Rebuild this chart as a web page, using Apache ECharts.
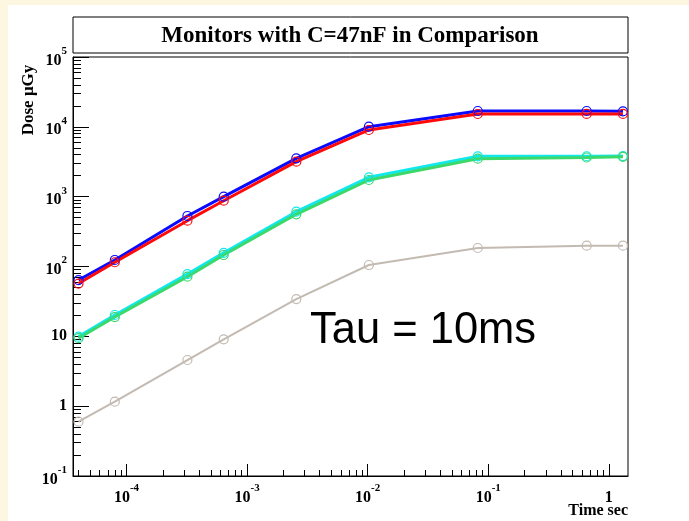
<!DOCTYPE html>
<html><head><meta charset="utf-8">
<script src="https://cdn.jsdelivr.net/npm/echarts@6/dist/echarts.min.js"></script>
<style>html,body{margin:0;padding:0;background:#fdf6e1;}#c{width:689px;height:521px;}</style>
</head><body><div id="c"></div>
<script>
// ---- data ----
const times = [4e-5, 8e-5, 3.2e-4, 6.4e-4, 2.56e-3, 1.024e-2, 8.192e-2, 0.65536, 1.31072];
const doseBlue  = [64, 124, 529, 1000, 3540, 10040, 16860, 16860, 16700];
const doseRed   = [57, 115, 453, 875, 3170, 9010, 15270, 15300, 15300];
const doseCyan  = [9.9, 20.2, 78, 157, 609, 1893, 3786, 3790, 3810];
const doseGreen = [9.4, 18.9, 71.4, 146, 559, 1733, 3500, 3640, 3720];
const doseGray  = [0.60, 1.16, 4.58, 9.06, 34.2, 105, 184, 199, 199];

const xTickValues = [1e-4, 1e-3, 1e-2, 1e-1, 1];
const xTickLabels = [['10','-4'], ['10','-3'], ['10','-2'], ['10','-1'], ['1','']];
const yTickValues = [0.1, 1, 10, 100, 1000, 10000, 100000];
const yTickLabels = [['10','-1'], ['1',''], ['10',''], ['10','2'], ['10','3'], ['10','4'], ['10','5']];

const title = 'Monitors with C=47nF in Comparison';
const xName = 'Time sec';
const yName = 'Dose \u03bcGy';
const note = 'Tau = 10ms';

// minor tick positions (2..9 per decade)
function minorTicks(lo, hi) {
  const out = [];
  for (let e = lo; e <= hi; e++) for (let k = 2; k <= 9; k++) out.push(+(k * Math.pow(10, e)).toPrecision(3));
  return out;
}
const xMinor = minorTicks(-5, 0);
const yMinor = minorTicks(-1, 4);

const serif = 'Liberation Serif';
const rich = {
  b: {fontFamily: serif, fontWeight: 'bold', fontSize: 16, color: '#000', padding: [7, 0, 0, 0]},
  s: {fontFamily: serif, fontWeight: 'bold', fontSize: 11, color: '#000', verticalAlign: 'top'},
  p: {fontFamily: serif, fontWeight: 'bold', fontSize: 16, color: '#000'}
};
function fmt(values, labels) {
  return function (v) {
    let best = 0, bd = Infinity;
    values.forEach((t, i) => { const d = Math.abs(Math.log10(t) - Math.log10(v)); if (d < bd) { bd = d; best = i; } });
    if (bd > 1e-3) return '';
    const l = labels[best];
    return l[1] ? '{b|' + l[0] + '}{s|' + l[1] + '}' : (values === xTickValues ? '{b|' + l[0] + '}' : '{p|' + l[0] + '}');
  };
}

const X_MIN = 3.6e-5, X_MAX = 1.443, Y_MIN = 0.1, Y_MAX = 1e5;

const chart = echarts.init(document.getElementById('c'), null, {renderer: 'canvas'});
function mk(name, data, color, width) {
  return {
    name, type: 'line', xAxisIndex: 0, yAxisIndex: 0,
    data: times.map((t, i) => [t, data[i]]),
    symbol: 'circle', symbolSize: 9,
    lineStyle: {color, width},
    itemStyle: {color: 'rgba(255,255,255,0)', borderColor: color, borderWidth: 1.2},
    emphasis: {disabled: true}, animation: false
  };
}
chart.setOption({
  animation: false,
  backgroundColor: 'transparent',
  grid: {left: 73, top: 57, width: 555, height: 419, show: true, borderColor: '#000', borderWidth: 1, backgroundColor: '#fff'},
  xAxis: [
    {type: 'log', min: X_MIN, max: X_MAX, position: 'bottom',
     axisLine: {show: true, lineStyle: {color: '#000', width: 1}},
     axisTick: {show: true, inside: true, length: 12, lineStyle: {color: '#000'}, customValues: xTickValues},
     axisLabel: {show: true, margin: 7, customValues: xTickValues, formatter: fmt(xTickValues, xTickLabels), rich},
     splitLine: {show: false}, minorTick: {show: false}},
    {type: 'log', min: X_MIN, max: X_MAX, position: 'bottom',
     axisLine: {show: false},
     axisTick: {show: true, inside: true, length: 6, lineStyle: {color: '#000'}, customValues: xMinor},
     axisLabel: {show: false}, splitLine: {show: false}}
  ],
  yAxis: [
    {type: 'log', min: Y_MIN, max: Y_MAX, position: 'left',
     axisLine: {show: true, lineStyle: {color: '#000', width: 1}},
     axisTick: {show: true, inside: true, length: 16, lineStyle: {color: '#000'}, customValues: yTickValues},
     axisLabel: {show: true, margin: 6, customValues: yTickValues, formatter: fmt(yTickValues, yTickLabels), rich},
     splitLine: {show: false}},
    {type: 'log', min: Y_MIN, max: Y_MAX, position: 'left',
     axisLine: {show: false},
     axisTick: {show: true, inside: true, length: 8, lineStyle: {color: '#000'}, customValues: yMinor},
     axisLabel: {show: false}, splitLine: {show: false}}
  ],
  series: [
    mk('blue', doseBlue, '#0a0aff', 3),
    mk('red', doseRed, '#ff0a0a', 3),
    mk('cyan', doseCyan, '#10e8ee', 3),
    mk('green', doseGreen, '#3cd86a', 3),
    mk('gray', doseGray, '#c3bab2', 2)
  ],
  graphic: [
    {type: 'rect', z: -10, shape: {x: 8, y: 5, width: 681, height: 516}, style: {fill: '#fff'}},
    {type: 'rect', shape: {x: 73, y: 17, width: 555, height: 36}, style: {fill: '#fff', stroke: '#000', lineWidth: 1}},
    {type: 'text', x: 350, y: 36, style: {text: title, fontFamily: serif, fontWeight: 'bold', fontSize: 23, fill: '#000', textAlign: 'center', textVerticalAlign: 'middle'}},
    {type: 'text', x: 29, y: 100, rotation: Math.PI / 2, style: {text: yName, fontFamily: serif, fontWeight: 'bold', fontSize: 17, fill: '#000', textAlign: 'center', textVerticalAlign: 'middle'}},
    {type: 'text', x: 628, y: 503, style: {text: xName, fontFamily: serif, fontWeight: 'bold', fontSize: 16, fill: '#000', textAlign: 'right', textVerticalAlign: 'top'}},
    {type: 'text', x: 310, y: 331, style: {text: note, fontFamily: 'Liberation Sans', fontSize: 43.5, fill: '#000', textAlign: 'left', textVerticalAlign: 'middle'}}
  ]
});
</script></body></html>
